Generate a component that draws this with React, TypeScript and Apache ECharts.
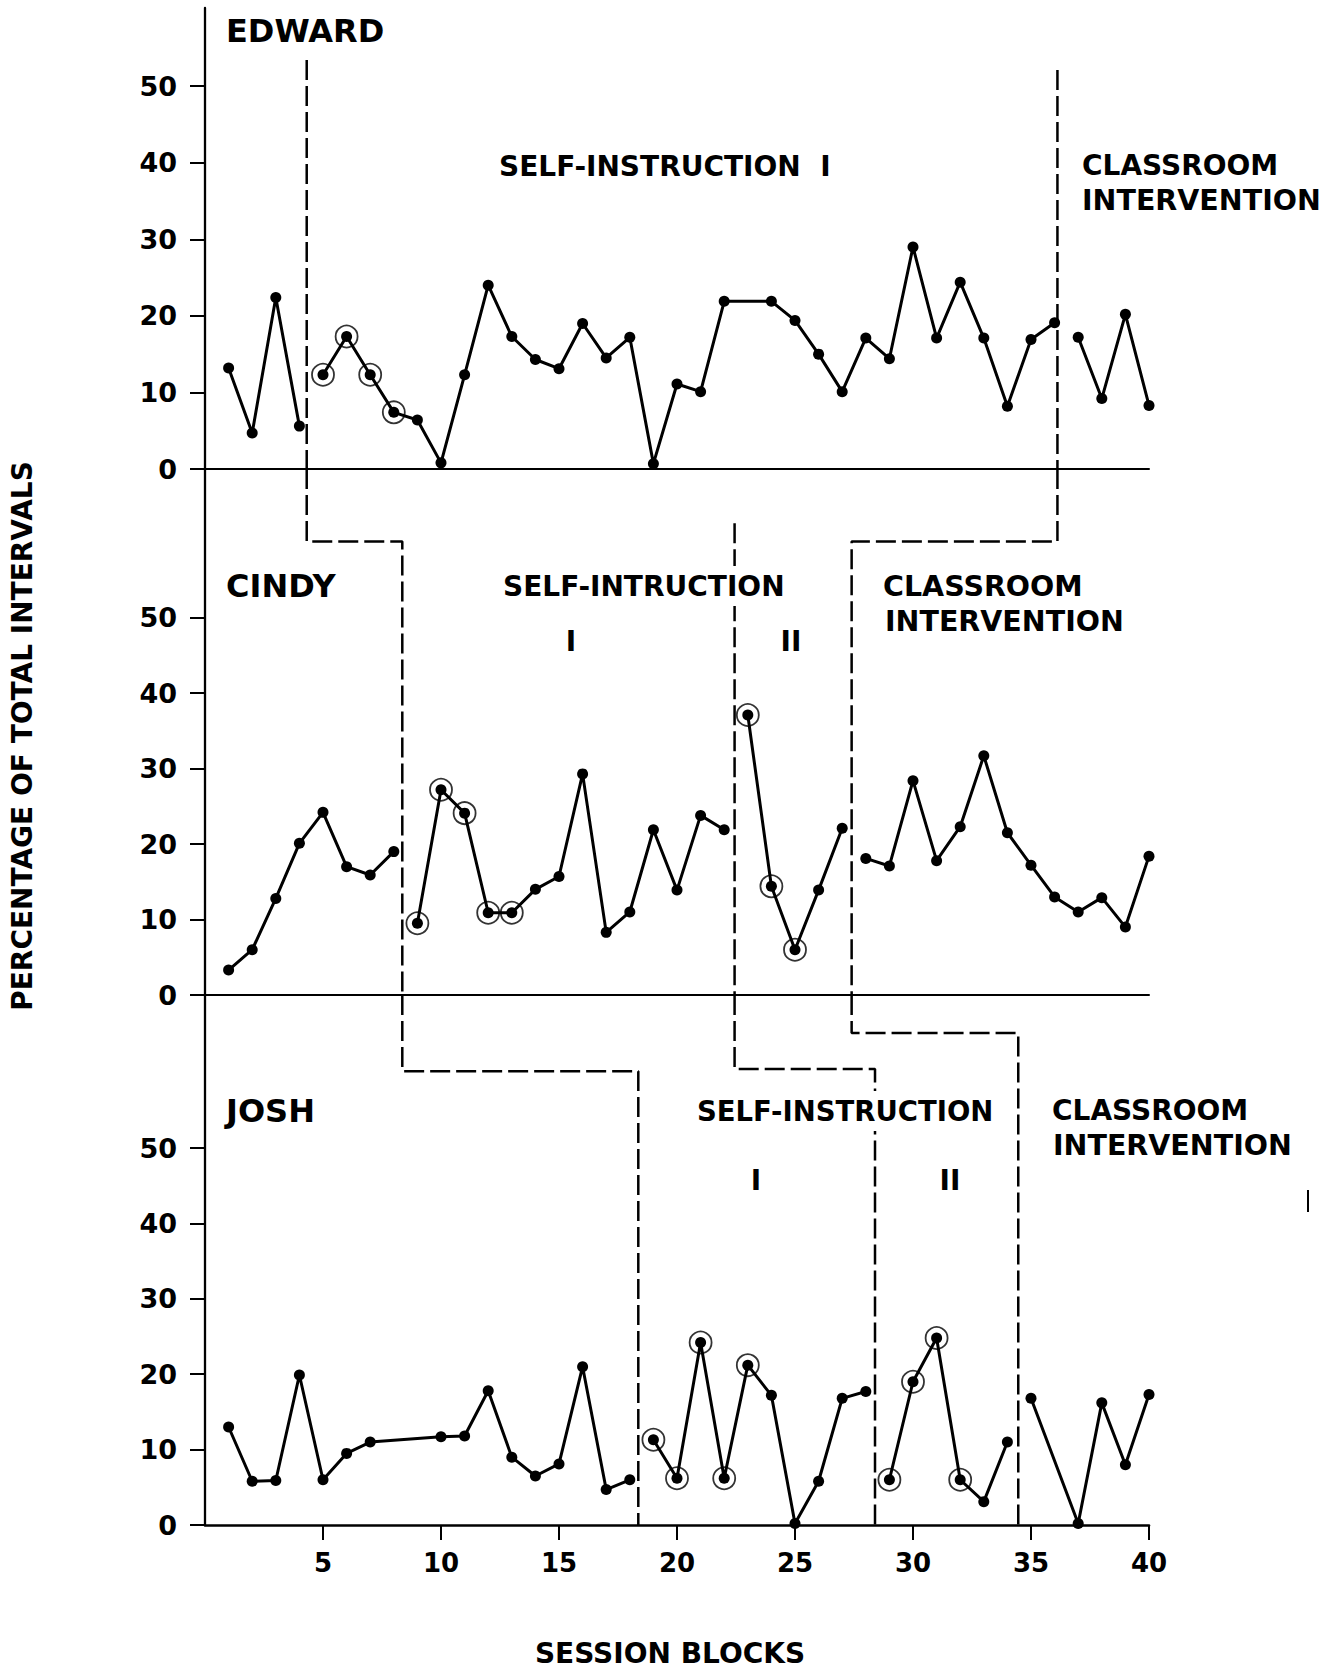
import React, { useEffect, useRef } from "react";
import * as echarts from "echarts";

// ---------- data (sessions 1..40, null = no observation) ----------
const sessions: number[] = Array.from({ length: 40 }, (_, i) => i + 1);

const edward: (number | null)[] = [
  13.2, 4.7, 22.4, 5.6, 12.3, 17.3, 12.3, 7.4, 6.4, 0.8,
  12.3, 24.0, 17.3, 14.3, 13.1, 19.0, 14.5, 17.2, 0.7, 11.1,
  10.1, 21.9, null, 21.9, 19.4, 15.0, 10.1, 17.1, 14.4, 29.0,
  17.1, 24.4, 17.1, 8.2, 16.9, 19.1, 17.2, 9.2, 20.2, 8.3,
];
const cindy: (number | null)[] = [
  3.3, 6.0, 12.8, 20.1, 24.2, 17.0, 15.9, 19.0, 9.5, 27.2,
  24.1, 10.9, 10.9, 14.0, 15.7, 29.3, 8.3, 11.0, 21.9, 13.9,
  23.8, 21.9, 37.1, 14.4, 6.0, 13.9, 22.1, 18.1, 17.1, 28.4,
  17.8, 22.3, 31.7, 21.5, 17.2, 13.0, 11.0, 12.9, 9.0, 18.4,
];
const josh: (number | null)[] = [
  13.0, 5.8, 5.9, 19.9, 6.0, 9.5, 11.0, null, null, 11.7,
  11.8, 17.8, 9.0, 6.5, 8.1, 21.0, 4.7, 6.0, 11.3, 6.2,
  24.2, 6.2, 21.2, 17.2, 0.2, 5.8, 16.8, 17.7, 6.0, 19.0,
  24.8, 6.0, 3.1, 11.0, 16.8, null, 0.2, 16.2, 8.0, 17.3,
];

// first session of each phase
const edwardPhaseStarts = [1, 5, 37];
const cindyPhaseStarts = [1, 9, 23, 28];
const joshPhaseStarts = [1, 19, 29, 35];

// circled (reliability) points
const edwardCircled = [5, 6, 7, 8];
const cindyCircled = [9, 10, 11, 12, 13, 23, 24, 25];
const joshCircled = [19, 20, 21, 22, 23, 29, 30, 31, 32];

const yTickValues = [0, 10, 20, 30, 40, 50];
const xTickValues = [5, 10, 15, 20, 25, 30, 35, 40];

// upper value of each panel's y axis (the axis line runs on into the panel above)
const E_MAX = 60.2;
const C_MAX = 69.7;
const J_MAX = 70.3;

// phase-change lines (session, value) per panel
const phaseLinesEdward: number[][][] = [
  [[4.31, 53.4], [4.31, 0]],
  [[36.12, 52.1], [36.12, 0]],
];
const phaseLinesCindy: number[][][] = [
  [[4.31, C_MAX], [4.31, 60.1], [8.36, 60.1], [8.36, 0]],
  [[36.12, C_MAX], [36.12, 60.1], [27.4, 60.1], [27.4, 0]],
  [[22.44, 62.5], [22.44, 0]],
];
const phaseLinesJosh: number[][][] = [
  [[8.36, J_MAX], [8.36, 60.2], [18.36, 60.2], [18.36, 0]],
  [[27.4, J_MAX], [27.4, 65.25], [34.46, 65.25], [34.46, 0]],
  [[22.44, J_MAX], [22.44, 60.5], [28.39, 60.5], [28.39, 0]],
];

// ---------- layout ----------
const FONT = '"DejaVu Sans", sans-serif';
const GRID_LEFT = 205;
const GRID_WIDTH = 944;
const panels = [
  { values: edward, starts: edwardPhaseStarts, circled: edwardCircled, max: E_MAX, top: 8, height: 461, lines: phaseLinesEdward },
  { values: cindy, starts: cindyPhaseStarts, circled: cindyCircled, max: C_MAX, top: 469, height: 526, lines: phaseLinesCindy },
  { values: josh, starts: joshPhaseStarts, circled: joshCircled, max: J_MAX, top: 995, height: 530, lines: phaseLinesJosh },
];

function buildOption() {
  const grid: any[] = [];
  const xAxis: any[] = [];
  const yAxis: any[] = [];
  const series: any[] = [];

  panels.forEach((p, gi) => {
    const isBottom = gi === panels.length - 1;
    grid.push({ left: GRID_LEFT, width: GRID_WIDTH, top: p.top, height: p.height });
    xAxis.push({
      type: "value",
      gridIndex: gi,
      min: 0,
      max: 40,
      splitLine: { show: false },
      axisLine: { show: true, onZero: false, lineStyle: { color: "#000", width: isBottom ? 2.6 : 2 } },
      axisTick: isBottom
        ? { show: true, customValues: xTickValues, length: 15, lineStyle: { color: "#000", width: 2 } }
        : { show: false },
      axisLabel: isBottom
        ? { show: true, customValues: xTickValues, margin: 25, color: "#000", fontSize: 26, fontWeight: "bold", fontFamily: FONT }
        : { show: false },
    });
    yAxis.push({
      type: "value",
      gridIndex: gi,
      min: 0,
      max: p.max,
      splitLine: { show: false },
      axisLine: { show: true, lineStyle: { color: "#000", width: 2.3 } },
      axisTick: { show: true, customValues: yTickValues, length: 15, lineStyle: { color: "#000", width: 2 } },
      axisLabel: { show: true, customValues: yTickValues, margin: 28, color: "#000", fontSize: 27, fontWeight: "bold", fontFamily: FONT },
    });

    // data lines, one per phase
    p.starts.forEach((start, k) => {
      const end = k + 1 < p.starts.length ? p.starts[k + 1] - 1 : 40;
      const data = sessions
        .filter((s) => s >= start && s <= end && p.values[s - 1] !== null)
        .map((s) => [s, p.values[s - 1]]);
      series.push({
        type: "line",
        xAxisIndex: gi,
        yAxisIndex: gi,
        data,
        symbol: "circle",
        symbolSize: 11,
        showSymbol: true,
        lineStyle: { color: "#000", width: 3 },
        itemStyle: { color: "#000" },
        z: 3,
        silent: true,
      });
    });

    // rings around circled points
    series.push({
      type: "scatter",
      xAxisIndex: gi,
      yAxisIndex: gi,
      data: p.circled.map((s) => [s, p.values[s - 1]]),
      symbol: "circle",
      symbolSize: 22,
      itemStyle: { color: "rgba(0,0,0,0)", borderColor: "#000", borderWidth: 1.8 },
      z: 4,
      silent: true,
    });

    // dashed phase-change lines
    p.lines.forEach((pts) => {
      series.push({
        type: "line",
        xAxisIndex: gi,
        yAxisIndex: gi,
        data: pts,
        symbol: "none",
        clip: false,
        lineStyle: { color: "#000", width: 2.5, type: [20, 6] },
        z: 2,
        silent: true,
      });
    });
  });

  const label = (text: string, x: number, y: number, size = 28, align = "left", bg = false) => ({
    type: "text",
    x,
    y,
    z: 100,
    style: {
      text,
      font: `bold ${size}px ${FONT}`,
      fill: "#000",
      align,
      verticalAlign: "middle",
      ...(bg ? { backgroundColor: "#fff", padding: [6, 2] } : {}),
    },
  });

  const graphic: any[] = [
    label("EDWARD", 226, 31, 32),
    label("SELF-INSTRUCTION  I", 499, 166),
    label("CLASSROOM", 1082, 165),
    label("INTERVENTION", 1082, 200, 28.5),

    label("CINDY", 226, 586, 32),
    label("SELF-INTRUCTION", 501, 586, 28, "left", true),
    label("I", 571, 641, 28, "center"),
    label("II", 791, 641, 28, "center"),
    label("CLASSROOM", 883, 586, 28.5),
    label("INTERVENTION", 885, 621, 28.5),

    label("JOSH", 226, 1111, 32),
    label("SELF-INSTRUCTION", 695, 1111, 27.5, "left", true),
    label("I", 756, 1180, 28, "center"),
    label("II", 950, 1180, 28, "center"),
    label("CLASSROOM", 1052, 1110),
    label("INTERVENTION", 1053, 1145, 28.5),

    {
      type: "text",
      x: 22,
      y: 736,
      rotation: Math.PI / 2,
      z: 100,
      style: { text: "PERCENTAGE OF TOTAL INTERVALS", font: `bold 28px ${FONT}`, fill: "#000", align: "center", verticalAlign: "middle" },
    },
    label("SESSION BLOCKS", 670, 1653, 28, "center"),
    { type: "line", z: 100, shape: { x1: 1308, y1: 1190, x2: 1308, y2: 1212 }, style: { stroke: "#000", lineWidth: 2 } },
  ];

  return {
    animation: false,
    backgroundColor: "#fff",
    grid,
    xAxis,
    yAxis,
    series,
    graphic,
  };
}

export default function App() {
  const ref = useRef<HTMLDivElement>(null);
  useEffect(() => {
    document.body.style.margin = "0";
    const chart = echarts.init(ref.current as HTMLDivElement, null, { renderer: "svg" });
    chart.setOption(buildOption() as any);
    return () => chart.dispose();
  }, []);
  return <div ref={ref} style={{ width: 1339, height: 1672 }} />;
}
